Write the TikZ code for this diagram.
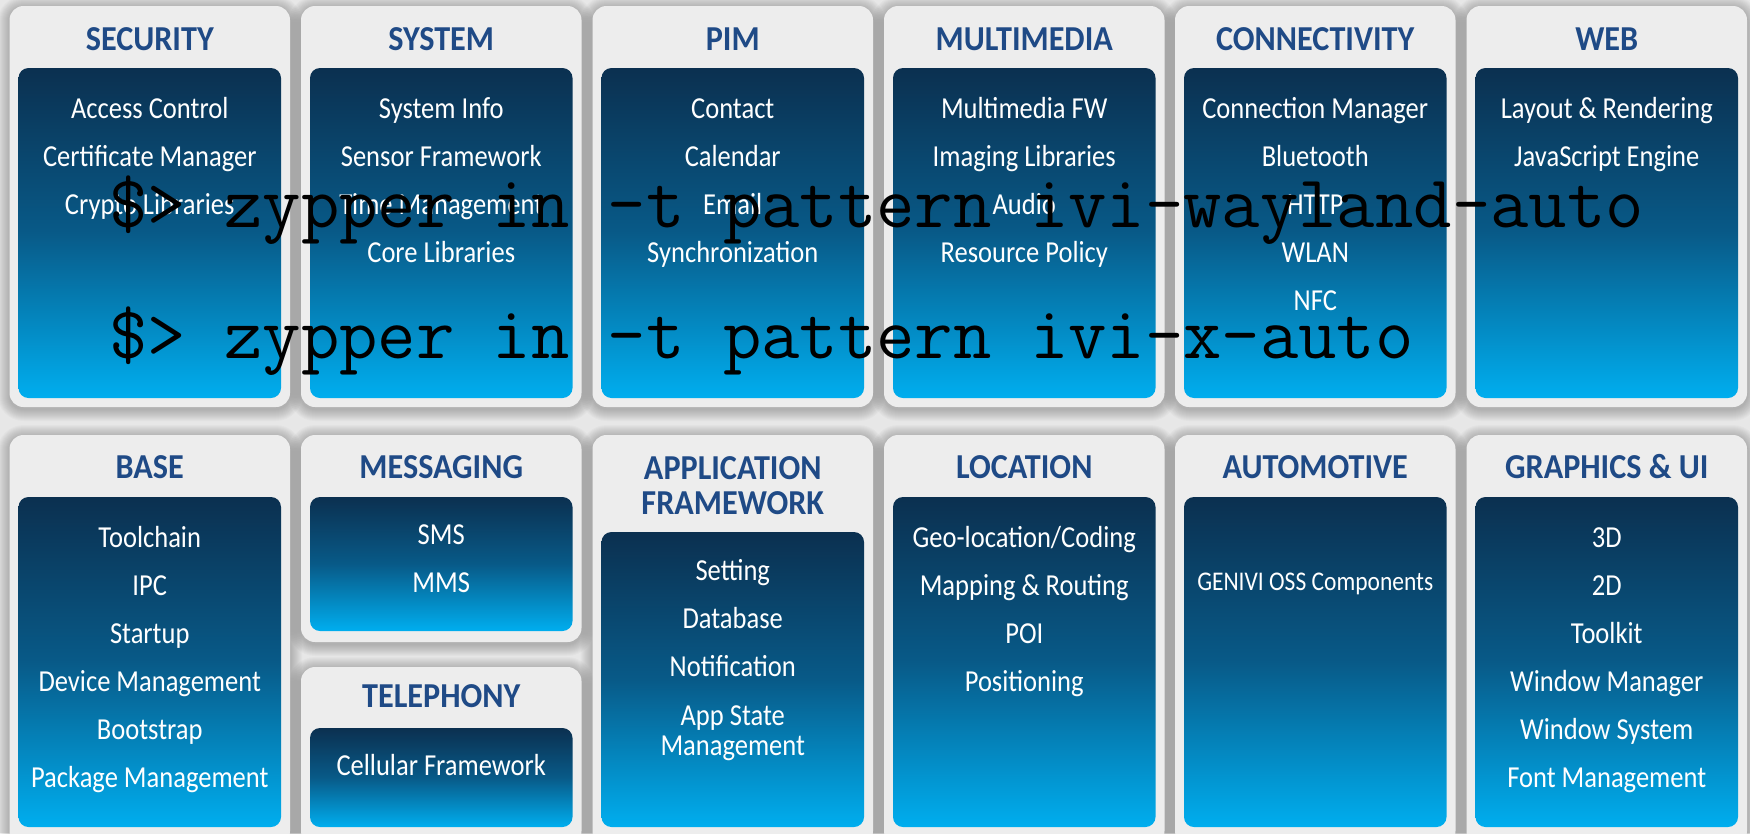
\documentclass[tikz,border=0pt]{standalone}
\usepackage{fontspec}
\newfontfamily\itemfont{Carlito}[FakeStretch=0.87]
\newfontfamily\titlefont{Carlito}[FakeStretch=0.92]
\usetikzlibrary{calc}

\definecolor{bg}{RGB}{231,231,231}
\definecolor{panel}{RGB}{237,237,237}
\definecolor{navy}{RGB}{11,48,80}
\definecolor{midblue}{RGB}{8,90,136}
\definecolor{sky}{RGB}{0,174,239}
\definecolor{titleblue}{RGB}{31,74,134}

\tikzset{
  glow/.style={fill=black, fill opacity=0.018},
  outerbox/.style={fill=panel, rounded corners=14pt, inner sep=0pt, outer sep=0pt},
  innerbox/.style={rounded corners=10pt, top color=navy, bottom color=sky, middle color=midblue, inner sep=0pt, outer sep=0pt},
  ttl/.style={text=titleblue, font=\titlefont\bfseries\fontsize{35}{35}\selectfont, anchor=base, inner sep=0pt},
  itm/.style={text=white, font=\itemfont\fontsize{30.5}{30}\selectfont, anchor=base, inner sep=0pt},
  cmd/.style={text=black, font=\ttfamily\fontsize{74.5}{74.5}\selectfont, anchor=base west, inner sep=0pt},
}

% one column of items, 48pt apart: name, centre x, first baseline, list
\newcommand\panelitems[4]{%
  \foreach \t [count=\k from 0] in {#4}
    \node[itm] (#1-\k) at (#2,{#3+48*\k}) {\t};%
}

\def\outerpanels{%
  security/9.5/6/290/407, system/301/6/581.5/407, pim/592.5/6/873/407,
  multimedia/884/6/1164.5/407, connectivity/1175/6/1455.5/407, web/1466.5/6/1747/407,
  base/9.5/435/290/845, messaging/301/435/581.5/642, telephony/301/667/581.5/845,
  appfw/592.5/435/873/845, location/884/435/1164.5/845, automotive/1175/435/1455.5/845,
  graphics/1466.5/435/1747/845}

\def\innerpanels{%
  security-in/18.5/68/281/398, system-in/310/68/572.5/398, pim-in/601.5/68/864/398,
  multimedia-in/893/68/1155.5/398, connectivity-in/1184/68/1446.5/398, web-in/1475.5/68/1738/398,
  base-in/18.5/497/281/827, messaging-in/310/497/572.5/631, telephony-in/310/728/572.5/827,
  appfw-in/601.5/532/864/827, location-in/893/497/1155.5/827, automotive-in/1184/497/1446.5/827,
  graphics-in/1475.5/497/1738/827}

\begin{document}
\begin{tikzpicture}[x=1pt,y=-1pt]
\path[use as bounding box] (0,0) rectangle (1750,833);
\clip (0,0) rectangle (1750,833);
\fill[bg] (0,0) rectangle (1750,833);

% soft shadows under every panel
\foreach \n/\xa/\ya/\xb/\yb in \outerpanels {
  \foreach \k in {1,...,12} {
    \pgfmathsetmacro\r{14+\k}
    \path[glow, rounded corners=\r pt] ({\xa-\k},{\ya-\k+2}) rectangle ({\xb+\k},{\yb+\k+2});
  }
}

% light grey panels
\foreach \n/\xa/\ya/\xb/\yb in \outerpanels {
  \pgfmathsetmacro\w{\xb-\xa}
  \pgfmathsetmacro\h{\yb-\ya}
  \node[outerbox, minimum width=\w pt, minimum height=\h pt] (\n) at ({(\xa+\xb)/2},{(\ya+\yb)/2}) {};
}

% blue gradient content boxes
\foreach \n/\xa/\ya/\xb/\yb in \innerpanels {
  \pgfmathsetmacro\w{\xb-\xa}
  \pgfmathsetmacro\h{\yb-\ya}
  \node[innerbox, minimum width=\w pt, minimum height=\h pt] (\n) at ({(\xa+\xb)/2},{(\ya+\yb)/2}) {};
}

% titles
\node[ttl] (security-t) at (149.75,50) {SECURITY};
\node[ttl] (system-t) at (441.25,50) {SYSTEM};
\node[ttl] (pim-t) at (732.75,50) {PIM};
\node[ttl] (multimedia-t) at (1024.25,50) {MULTIMEDIA};
\node[ttl] (connectivity-t) at (1315.25,50) {CONNECTIVITY};
\node[ttl] (web-t) at (1606.75,50) {WEB};
\node[ttl] (base-t) at (149.75,478) {BASE};
\node[ttl] (messaging-t) at (441.25,478) {MESSAGING};
\node[ttl] (telephony-t) at (441.25,707) {TELEPHONY};
% a two-line node sits on the baseline of its last line
\node[ttl, align=center] (appfw-t) at (732.75,514) {APPLICATION\\FRAMEWORK};
\node[ttl] (location-t) at (1024.25,478) {LOCATION};
\node[ttl] (automotive-t) at (1315.25,478) {AUTOMOTIVE};
\node[ttl] (graphics-t) at (1606.75,478) {GRAPHICS \& UI};

% items
\panelitems{security}{149.75}{118}{Access Control, Certificate Manager, Crypto Libraries}
\panelitems{system}{441.25}{118}{System Info, Sensor Framework, Time Management, Core Libraries}
\panelitems{pim}{732.75}{118}{Contact, Calendar, Email, Synchronization}
\panelitems{multimedia}{1024.25}{118}{Multimedia FW, Imaging Libraries, Audio, Resource Policy}
\panelitems{connectivity}{1315.25}{118}{Connection Manager, Bluetooth, HTTP, WLAN, NFC}
\panelitems{web}{1606.75}{118}{Layout \& Rendering, JavaScript Engine}
\panelitems{base}{149.75}{547}{Toolchain, IPC, Startup, Device Management, Bootstrap, Package Management}
\panelitems{messaging}{441.25}{544}{SMS, MMS}
\node[itm] (telephony-0) at (441.25,775) {Cellular Framework};
\panelitems{appfw}{732.75}{580}{Setting, Database, Notification}
\node[itm, align=center] (appfw-3) at (732.75,755) {App State\\Management};
\panelitems{location}{1024.25}{547}{Geo-location/Coding, Mapping \& Routing, POI, Positioning}
\node[itm, font=\itemfont\fontsize{27}{27}\selectfont] (automotive-0) at (1315.25,590) {GENIVI OSS Components};
\panelitems{graphics}{1606.75}{547}{3D, 2D, Toolkit, Window Manager, Window System, Font Management}

% install commands
\node[cmd] (cmd-wayland) at (109,227) {\$> zypper in -t pattern ivi-wayland-auto};
\node[cmd] (cmd-x) at (109,358) {\$> zypper in -t pattern ivi-x-auto};
\end{tikzpicture}
\end{document}
